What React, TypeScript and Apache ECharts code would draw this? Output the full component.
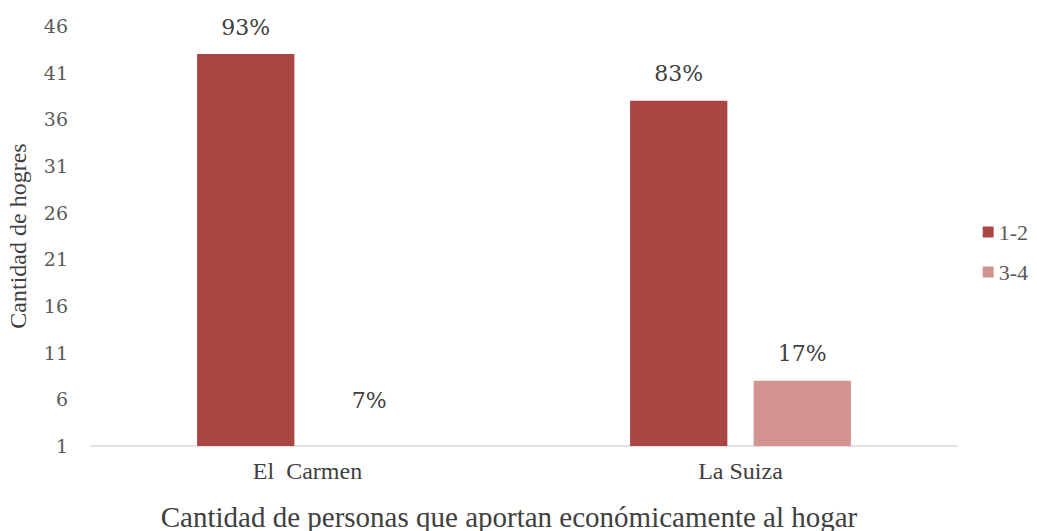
import React, { useEffect, useRef } from "react";
import * as echarts from "echarts";

const categories = ["El  Carmen", "La Suiza"];
const seriesNames = ["1-2", "3-4"];
const values12 = [43, 38];
const values34 = [3, 8];
const labels12 = ["93%", "83%"];
const labels34 = ["7%", "17%"];
const hiddenBars34 = [true, false];

const NUMFONT = "DejaVu Serif";
const TXTFONT = "Liberation Serif";

export default function App() {
  const ref = useRef<HTMLDivElement>(null);
  useEffect(() => {
    if (!ref.current) return;
    const chart = echarts.init(ref.current, undefined, { renderer: "svg" });
    chart.setOption({
      animation: false,
      textStyle: { fontFamily: TXTFONT },
      grid: { left: 91, right: 80, top: 26, bottom: 85, containLabel: false, outerBoundsMode: "none" },
      legend: {
        orient: "vertical",
        right: 4,
        top: 216,
        itemWidth: 11,
        itemHeight: 11,
        itemGap: 18,
        icon: "rect",
        textStyle: { fontFamily: TXTFONT, fontSize: 22, color: "#595959" },
        data: seriesNames,
      },
      xAxis: {
        type: "category",
        data: categories,
        name: "Cantidad de personas que aportan económicamente al hogar",
        nameLocation: "middle",
        nameGap: 56,
        nameMoveOverlap: false,
        nameTextStyle: { fontFamily: TXTFONT, fontSize: 29, color: "#404040", padding: [0, 30, 0, 0] },
        axisLine: { lineStyle: { color: "#d9d9d9", width: 1.5 } },
        axisTick: { show: false },
        axisLabel: { fontFamily: TXTFONT, fontSize: 24, color: "#404040", margin: 13 },
      },
      yAxis: {
        type: "value",
        min: 1,
        max: 46,
        interval: 5,
        name: "Cantidad de hogres",
        nameLocation: "middle",
        nameGap: 61,
        nameMoveOverlap: false,
        nameTextStyle: { fontFamily: TXTFONT, fontSize: 24, color: "#404040" },
        axisLine: { show: false },
        axisTick: { show: false },
        splitLine: { show: false },
        axisLabel: { fontFamily: NUMFONT, fontSize: 19, color: "#595959", margin: 23, align: "right" },
      },
      series: [
        {
          name: seriesNames[0],
          type: "bar",
          data: values12.map((v, i) => ({ value: v, label: { formatter: labels12[i] } })),
          itemStyle: { color: "#A94644" },
          barGap: "27%",
          barCategoryGap: "49%",
          label: { show: true, position: "top", distance: 16, fontFamily: NUMFONT, fontSize: 22, color: "#404040" },
        },
        {
          name: seriesNames[1],
          type: "bar",
          data: values34.map((v, i) => ({
            value: v,
            label: { formatter: labels34[i] },
            itemStyle: hiddenBars34[i] ? { color: "rgba(0,0,0,0)" } : undefined,
          })),
          itemStyle: { color: "#D39391" },
          barGap: "27%",
          barCategoryGap: "49%",
          label: { show: true, position: "top", distance: 16, fontFamily: NUMFONT, fontSize: 22, color: "#404040" },
        },
      ],
    });
    return () => chart.dispose();
  }, []);
  return <div ref={ref} style={{ width: 1037, height: 531, position: "absolute", left: 0, top: 0 }} />;
}
